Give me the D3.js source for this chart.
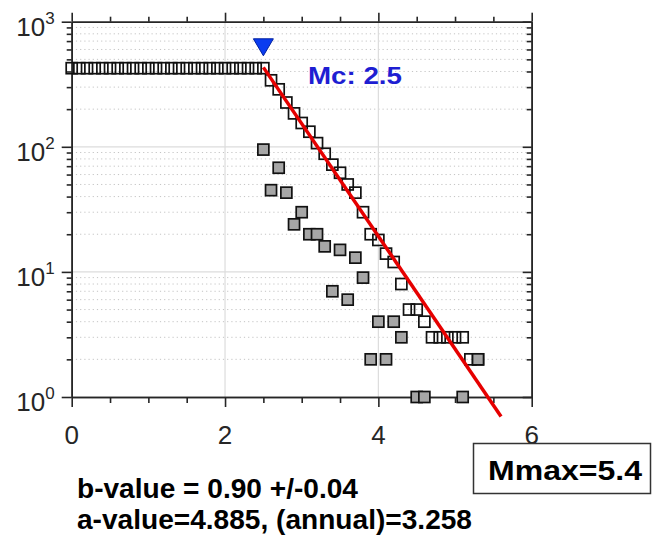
<!DOCTYPE html>
<html>
<head>
<meta charset="utf-8">
<script src="https://cdn.jsdelivr.net/npm/d3@7"></script>
<style>
html,body{margin:0;padding:0;background:#fff;}
svg{display:block;font-family:"Liberation Sans",Arial,sans-serif;}
</style>
</head>
<body>
<svg id="chart" width="653" height="540"></svg>
<script>
// ---- data ----
const cumMags = [0.0,0.1,0.2,0.3,0.4,0.5,0.6,0.7,0.8,0.9,1.0,1.1,1.2,1.3,1.4,1.5,1.6,1.7,1.8,1.9,2.0,2.1,2.2,2.3,2.4,2.5,
                 2.6,2.7,2.8,2.9,3.0,3.1,3.2,3.3,3.4,3.5,3.6,3.7,3.8,3.9,4.0,4.1,4.2,4.3,4.4,4.5,4.6,4.7,4.8,4.9,5.0,5.1,5.2,5.3];
const cumCounts = [425,425,425,425,425,425,425,425,425,425,425,425,425,425,425,425,425,425,425,425,425,425,425,425,425,425,
                   340,288,226,185,155,132,107,88,72,62,50,43,30,20,18,14,12,8,5,5,4,3,3,3,3,3,2,2];
const binMags = [2.5,2.6,2.7,2.8,2.9,3.0,3.1,3.2,3.3,3.4,3.5,3.6,3.7,3.8,3.9,4.0,4.1,4.2,4.3,4.5,4.6,5.1,5.3];
const binCounts = [95,45,68,43,24,30,20,20,16,7,15,6,13,9,2,4,2,4,3,1,1,1,2];
const aValue = 4.885, bValue = 0.90, mc = 2.5, fitEnd = 5.6;
const mcMarkerN = 630;
const xTicks = [0,2,4,6];
const xMinorTicks = [0.5,1,1.5,2.5,3,3.5,4.5,5,5.5];
const yTicks = [1,10,100,1000];
const yTickExp = ["0","1","2","3"];
const textLines = ["b-value = 0.90 +/-0.04", "a-value=4.885, (annual)=3.258"];
const mcLabel = "Mc: 2.5";
const mmaxLabel = "Mmax=5.4";

// ---- layout ----
const svg = d3.select("#chart");
const L = 71.7, R = 531.7, T = 21.7, B = 397;
const x = d3.scaleLinear().domain([0,6]).range([L,R]);
const y = d3.scaleLog().domain([1,1000]).range([B,T]);
const axisColor = "#262626";

const yMinor = [];
[1,10,100].forEach(d => { for (let k=2;k<=9;k++) yMinor.push(d*k); });

// grid
const grid = svg.append("g");
grid.selectAll("line.ymin").data(yMinor).join("line")
  .attr("x1",L).attr("x2",R).attr("y1",d=>y(d)).attr("y2",d=>y(d))
  .attr("stroke","#c4c4c4").attr("stroke-width",1).attr("stroke-dasharray","1.2,3");
grid.selectAll("line.ymaj").data([10,100]).join("line")
  .attr("x1",L).attr("x2",R).attr("y1",d=>y(d)).attr("y2",d=>y(d))
  .attr("stroke","#dcdcdc").attr("stroke-width",1.2);
grid.selectAll("line.xmaj").data([2,4]).join("line")
  .attr("y1",T).attr("y2",B).attr("x1",d=>x(d)).attr("x2",d=>x(d))
  .attr("stroke","#dcdcdc").attr("stroke-width",1.2);

// axes
function styleAxis(g){
  g.select(".domain").attr("stroke",axisColor).attr("stroke-width",1.6);
  g.selectAll(".tick line").attr("stroke",axisColor).attr("stroke-width",1.6);
  g.selectAll(".tick text").remove();
}
svg.append("g").attr("transform",`translate(0,${B})`)
  .call(d3.axisBottom(x).tickValues(xTicks).tickSize(10).tickSizeOuter(0)).call(styleAxis);
svg.append("g").attr("transform",`translate(0,${B})`)
  .call(d3.axisBottom(x).tickValues(xMinorTicks).tickSize(6).tickSizeOuter(0)).call(styleAxis);
svg.append("g").attr("transform",`translate(0,${T})`)
  .call(d3.axisTop(x).tickValues(xTicks).tickSize(9).tickSizeOuter(0)).call(styleAxis);
svg.append("g").attr("transform",`translate(0,${T})`)
  .call(d3.axisTop(x).tickValues(xMinorTicks).tickSize(5).tickSizeOuter(0)).call(styleAxis);
svg.append("g").attr("transform",`translate(${L},0)`)
  .call(d3.axisLeft(y).tickValues(yTicks).tickSize(10).tickSizeOuter(0)).call(styleAxis);
svg.append("g").attr("transform",`translate(${L},0)`)
  .call(d3.axisLeft(y).tickValues(yMinor).tickSize(5).tickSizeOuter(0)).call(styleAxis);
svg.append("g").attr("transform",`translate(${R},0)`)
  .call(d3.axisRight(y).tickValues(yTicks).tickSize(-9).tickSizeOuter(0)).call(styleAxis);
svg.append("g").attr("transform",`translate(${R},0)`)
  .call(d3.axisRight(y).tickValues(yMinor).tickSize(-5).tickSizeOuter(0)).call(styleAxis);

// tick labels
svg.append("g").selectAll("text").data(xTicks).join("text")
  .attr("x",d=>x(d)).attr("y",B+47).attr("text-anchor","middle")
  .attr("font-size",26).attr("fill",axisColor).text(d=>d);
const yl = svg.append("g").selectAll("text").data(yTicks).join("text")
  .attr("x",L-17).attr("y",d=>y(d)+14).attr("text-anchor","end")
  .attr("font-size",26).attr("fill",axisColor);
yl.append("tspan").text("10");
yl.append("tspan").attr("font-size",17).attr("dy",-12).text((d,i)=>yTickExp[i]);

// cumulative (open squares)
const sq = 11;
svg.append("g").selectAll("rect").data(cumMags.map((m,i)=>[m,cumCounts[i]])).join("rect")
  .attr("x",d=>x(d[0])-sq/2).attr("y",d=>y(d[1])-sq/2).attr("width",sq).attr("height",sq)
  .attr("fill","none").attr("stroke","#111").attr("stroke-width",1.7);
// non-cumulative (gray squares)
svg.append("g").selectAll("rect").data(binMags.map((m,i)=>[m,binCounts[i]])).join("rect")
  .attr("x",d=>x(d[0])-sq/2).attr("y",d=>y(d[1])-sq/2).attr("width",sq).attr("height",sq)
  .attr("fill","#a6a6a6").attr("stroke","#111").attr("stroke-width",1.7);

// fit line
const fitPts = [mc, fitEnd].map(m=>[x(m), y(Math.pow(10, aValue - bValue*m))]);
svg.append("path").attr("d",d3.line()(fitPts))
  .attr("stroke","#e60000").attr("stroke-width",3.5).attr("fill","none");

// Mc marker
const mx = x(mc), my = y(mcMarkerN);
svg.append("path").attr("d",`M${mx-10},${my-8}L${mx+10},${my-8}L${mx},${my+9}Z`)
  .attr("fill","#0a3cf0").attr("stroke","#0020a0").attr("stroke-width",1);
svg.append("text").attr("x",308).attr("y",84).attr("font-size",24).attr("font-weight","bold")
  .attr("fill","#1e1ed2").attr("textLength",94).attr("lengthAdjust","spacingAndGlyphs").text(mcLabel);

// bottom texts
svg.append("text").attr("x",77).attr("y",498).attr("font-size",27).attr("font-weight","bold")
  .attr("fill","#000").attr("textLength",281).attr("lengthAdjust","spacingAndGlyphs").text(textLines[0]);
svg.append("text").attr("x",77).attr("y",529).attr("font-size",27).attr("font-weight","bold")
  .attr("fill","#000").attr("textLength",395).attr("lengthAdjust","spacingAndGlyphs").text(textLines[1]);

// Mmax box
svg.append("rect").attr("x",473.5).attr("y",443.5).attr("width",177).attr("height",50)
  .attr("fill","#fff").attr("stroke","#333").attr("stroke-width",1.5);
svg.append("text").attr("x",488).attr("y",480).attr("font-size",28).attr("font-weight","bold")
  .attr("fill","#000").attr("textLength",154).attr("lengthAdjust","spacingAndGlyphs").text(mmaxLabel);
</script>
</body>
</html>
